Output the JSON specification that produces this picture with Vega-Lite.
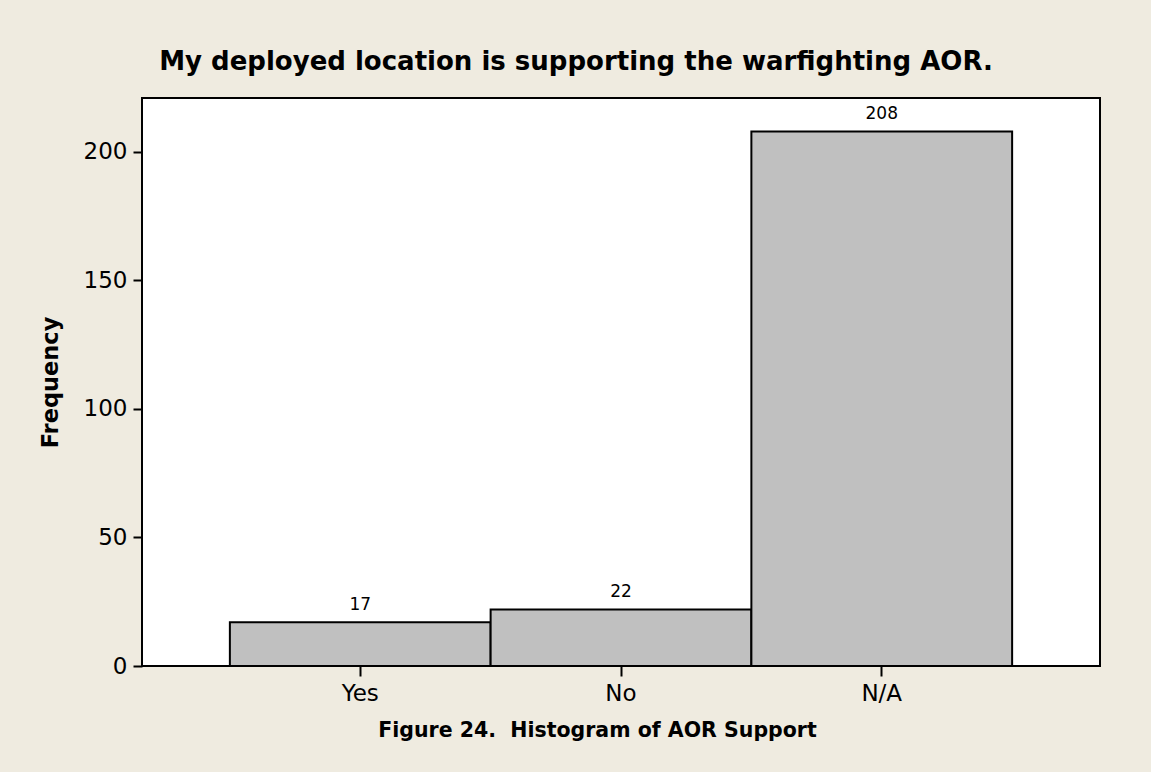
{
  "$schema": "https://vega.github.io/schema/vega-lite/v6.json",
  "autosize": {"type": "none"},
  "width": 958,
  "height": 568,
  "padding": {"left": 142, "top": 98, "right": 51, "bottom": 106},
  "background": "#EFEBE0",
  "title": {
    "text": "My deployed location is supporting the warfighting AOR.",
    "font": "DejaVu Sans",
    "fontSize": 26,
    "fontWeight": "bold",
    "color": "#000000",
    "anchor": "middle",
    "baseline": "alphabetic",
    "offset": 2,
    "dx": -45
  },
  "data": {
    "values": [
      {"answer": "Yes", "count": 17},
      {"answer": "No", "count": 22},
      {"answer": "N/A", "count": 208}
    ]
  },
  "encoding": {
    "x": {
      "field": "answer",
      "type": "nominal",
      "sort": ["Yes", "No", "N/A"],
      "scale": {"paddingInner": 0, "paddingOuter": 0.337},
      "axis": {
        "title": "Figure 24.\u00a0\u00a0Histogram of AOR Support",
        "titleFont": "DejaVu Sans",
        "titleFontSize": 20.5,
        "titleFontWeight": "bold",
        "titleColor": "#000000",
        "titleX": 455,
        "titleY": 70,
        "titleBaseline": "alphabetic",
        "labelFont": "DejaVu Sans",
        "labelFontSize": 23,
        "labelColor": "#000000",
        "labelAngle": 0,
        "labelPadding": 6,
        "tickSize": 10,
        "tickColor": "#000000",
        "tickWidth": 2,
        "domain": false
      }
    },
    "y": {
      "field": "count",
      "type": "quantitative",
      "scale": {"domain": [0, 221], "nice": false},
      "axis": {
        "title": "Frequency",
        "titleFont": "DejaVu Sans",
        "titleFontSize": 22.5,
        "titleFontWeight": "bold",
        "titleColor": "#000000",
        "titleX": -80,
        "titleY": 284,
        "titleBaseline": "bottom",
        "values": [0, 50, 100, 150, 200],
        "labelFont": "DejaVu Sans",
        "labelFontSize": 23,
        "labelColor": "#000000",
        "labelPadding": 6,
        "tickSize": 9,
        "tickColor": "#000000",
        "tickWidth": 2,
        "grid": false,
        "domain": false
      }
    }
  },
  "layer": [
    {
      "mark": {"type": "bar", "fill": "#C0C0C0", "stroke": "#000000", "strokeWidth": 2}
    },
    {
      "mark": {"type": "text", "font": "DejaVu Sans", "fontSize": 17, "color": "#000000", "baseline": "alphabetic", "dy": -12},
      "encoding": {"text": {"field": "count", "type": "quantitative"}}
    }
  ],
  "config": {
    "view": {"fill": "#FFFFFF", "stroke": "#000000", "strokeWidth": 2}
  }
}
